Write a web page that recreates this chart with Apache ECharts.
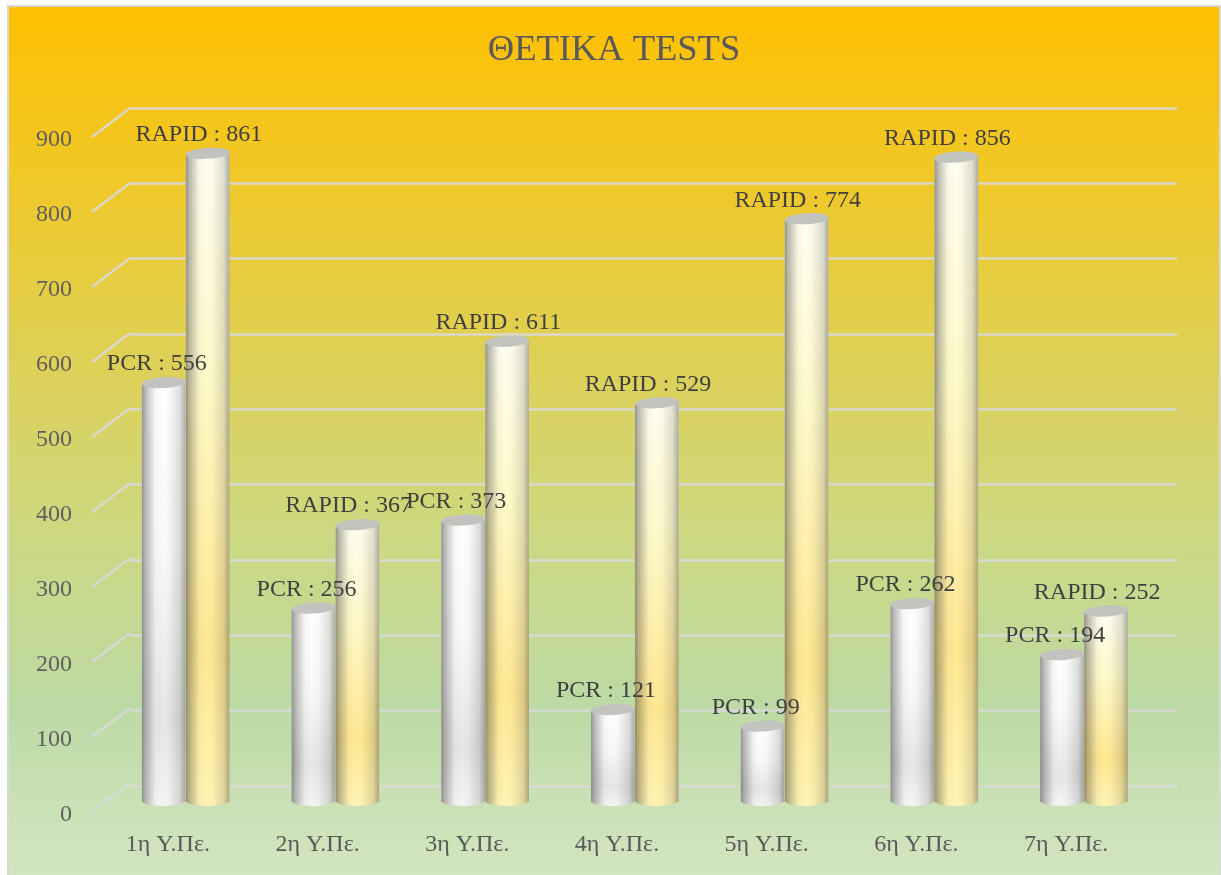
<!DOCTYPE html>
<html>
<head>
<meta charset="utf-8">
<style>
  html, body { margin: 0; padding: 0; background: #fff; }
  #main { width: 1221px; height: 875px; }
</style>
<script src="https://cdn.jsdelivr.net/npm/echarts@6/dist/echarts.min.js"></script>
</head>
<body>
<div id="main"></div>
<script>
var categories = ['1η Υ.Πε.', '2η Υ.Πε.', '3η Υ.Πε.', '4η Υ.Πε.', '5η Υ.Πε.', '6η Υ.Πε.', '7η Υ.Πε.'];
var pcrValues = [556, 256, 373, 121, 99, 262, 194];
var rapidValues = [861, 367, 611, 529, 774, 856, 252];
var yTicks = [0, 100, 200, 300, 400, 500, 600, 700, 800, 900];

var serif = '"Liberation Serif", serif';
var LinearGradient = echarts.graphic.LinearGradient;

function vertical(stops) {
  return new LinearGradient(0, 0, 0, 1, stops);
}

// darker edges laid over the body colour, this is what makes it look round
var edgeShade = new LinearGradient(0, 0, 1, 0, [
  { offset: 0, color: 'rgba(60,60,55,0.55)' },
  { offset: 0.08, color: 'rgba(60,60,55,0.36)' },
  { offset: 0.3, color: 'rgba(60,60,55,0.04)' },
  { offset: 0.45, color: 'rgba(60,60,55,0)' },
  { offset: 0.6, color: 'rgba(60,60,55,0.02)' },
  { offset: 0.86, color: 'rgba(60,60,55,0.17)' },
  { offset: 1, color: 'rgba(60,60,55,0.44)' }
]);

var pcrFill = vertical([
  { offset: 0, color: '#ffffff' },
  { offset: 0.4, color: '#f9f9f9' },
  { offset: 0.8, color: '#e6e6e6' },
  { offset: 1, color: '#f5f5f5' }
]);
var rapidFill = vertical([
  { offset: 0, color: '#fffef0' },
  { offset: 0.35, color: '#fff9c8' },
  { offset: 0.76, color: '#ffe892' },
  { offset: 1, color: '#fff4b4' }
]);

function cylinder(name, fill, shift, labelShift, z2) {
  return function (params, api) {
    var top = api.coord([api.value(0), api.value(1)]);
    var base = api.coord([api.value(0), 0]);
    var band = api.size([1, 0])[0];
    var w = band * 0.294;
    var rx = w / 2;
    var ry = 5.5;
    var tilt = 1.3;
    var cx = top[0] + shift * w;
    var h = base[1] - top[1] + tilt;
    // the top and the foot lean a little, right side higher, like the 3d rotation of the original
    var d = 'M0 ' + (2 * tilt) + ' L0 ' + (h + 1) + ' A' + rx + ' ' + ry + ' 0 0 0 ' + w + ' ' + (h - 1) + ' L' + w + ' 0 Z';
    var box = { pathData: d, layout: 'cover', x: cx - rx, y: top[1] - tilt, width: w, height: h + ry };
    return {
      type: 'group',
      children: [
        { type: 'path', z2: z2, shape: box, style: { fill: fill } },
        { type: 'path', z2: z2 + 1, shape: box, style: { fill: edgeShade } },
        {
          type: 'ellipse', z2: z2 + 2,
          originX: cx, originY: top[1], rotation: 0.06,
          shape: { cx: cx, cy: top[1], rx: rx, ry: ry },
          style: { fill: '#c2c2bf' }
        },
        {
          type: 'text', z2: 100,
          x: cx + labelShift, y: top[1] - 18.5,
          style: {
            text: name + ' : ' + api.value(1),
            font: '24px ' + serif,
            fill: '#404040',
            align: 'center',
            verticalAlign: 'middle'
          }
        }
      ]
    };
  };
}

function renderDepthLine(params, api) {
  var p = api.coord([0, api.value(0)]);
  var band = api.size([1, 0])[0];
  // the label plane sits a little off the front of the floor
  var x = p[0] - band / 2 - 1;
  var y = p[1] - 3;
  return {
    type: 'line',
    shape: { x1: x, y1: y, x2: x + 38, y2: y - 29 },
    style: { stroke: '#d9d9d9', lineWidth: 2.5, opacity: 0.9 }
  };
}

var chart = echarts.init(document.getElementById('main'), null, { renderer: 'canvas' });
chart.setOption({
  animation: false,
  backgroundColor: '#ffffff',
  title: {
    text: 'ΘΕΤΙΚΑ TESTS',
    left: 609,
    textAlign: 'center',
    top: 27,
    textStyle: { fontFamily: serif, fontSize: 36.5, fontWeight: 'normal', color: '#595959' }
  },
  graphic: [{
    type: 'rect',
    z: -10,
    silent: true,
    shape: { x: 8, y: 6, width: 1212, height: 872 },
    style: {
      fill: vertical([
        { offset: 0, color: '#ffc000' },
        { offset: 0.28, color: '#e9cb39' },
        { offset: 0.6, color: '#cdd880' },
        { offset: 0.8, color: '#bcdaa4' },
        { offset: 1, color: '#d3e6c2' }
      ]),
      stroke: '#d9d9d9',
      lineWidth: 2
    }
  }],
  grid: [
    // front plane, carries the axis labels
    { left: 93, right: 80, top: 140, height: 675 },
    // back wall, carries the gridlines
    { left: 130, right: 44, top: 108, height: 678 },
    // plane the cylinders stand on
    { left: 111, right: 62, top: 124, height: 676.5 }
  ],
  xAxis: [
    {
      gridIndex: 0, type: 'category', data: categories,
      axisLine: { show: false }, axisTick: { show: false },
      axisLabel: { margin: 18, fontFamily: serif, fontSize: 24, color: '#595959' }
    },
    { gridIndex: 1, type: 'category', data: categories, show: false },
    { gridIndex: 2, type: 'category', data: categories, show: false }
  ],
  yAxis: [
    {
      gridIndex: 0, type: 'value', min: 0, max: 900, interval: 100,
      axisLine: { show: false }, axisTick: { show: false }, splitLine: { show: false },
      axisLabel: { margin: 21, fontFamily: serif, fontSize: 24, color: '#5f5f5f' }
    },
    {
      gridIndex: 1, type: 'value', min: 0, max: 900, interval: 100,
      axisLine: { show: false }, axisTick: { show: false }, axisLabel: { show: false },
      splitLine: { show: true, lineStyle: { color: '#d9d9d9', width: 2.5, opacity: 0.9 } }
    },
    { gridIndex: 2, type: 'value', min: 0, max: 900, interval: 100, show: false, splitLine: { show: false } }
  ],
  series: [
    {
      type: 'custom', name: 'depth', xAxisIndex: 0, yAxisIndex: 0, silent: true,
      data: yTicks.map(function (v) { return [v]; }),
      encode: { y: 0 },
      renderItem: renderDepthLine
    },
    {
      type: 'custom', name: 'PCR', xAxisIndex: 2, yAxisIndex: 2, silent: true,
      data: pcrValues.map(function (v, i) { return [i, v]; }),
      encode: { x: 0, y: 1 },
      renderItem: cylinder('PCR', pcrFill, -0.5, -7, 10)
    },
    {
      type: 'custom', name: 'RAPID', xAxisIndex: 2, yAxisIndex: 2, silent: true,
      data: rapidValues.map(function (v, i) { return [i, v]; }),
      encode: { x: 0, y: 1 },
      renderItem: cylinder('RAPID', rapidFill, 0.5, -9, 20)
    }
  ]
});
</script>
</body>
</html>
